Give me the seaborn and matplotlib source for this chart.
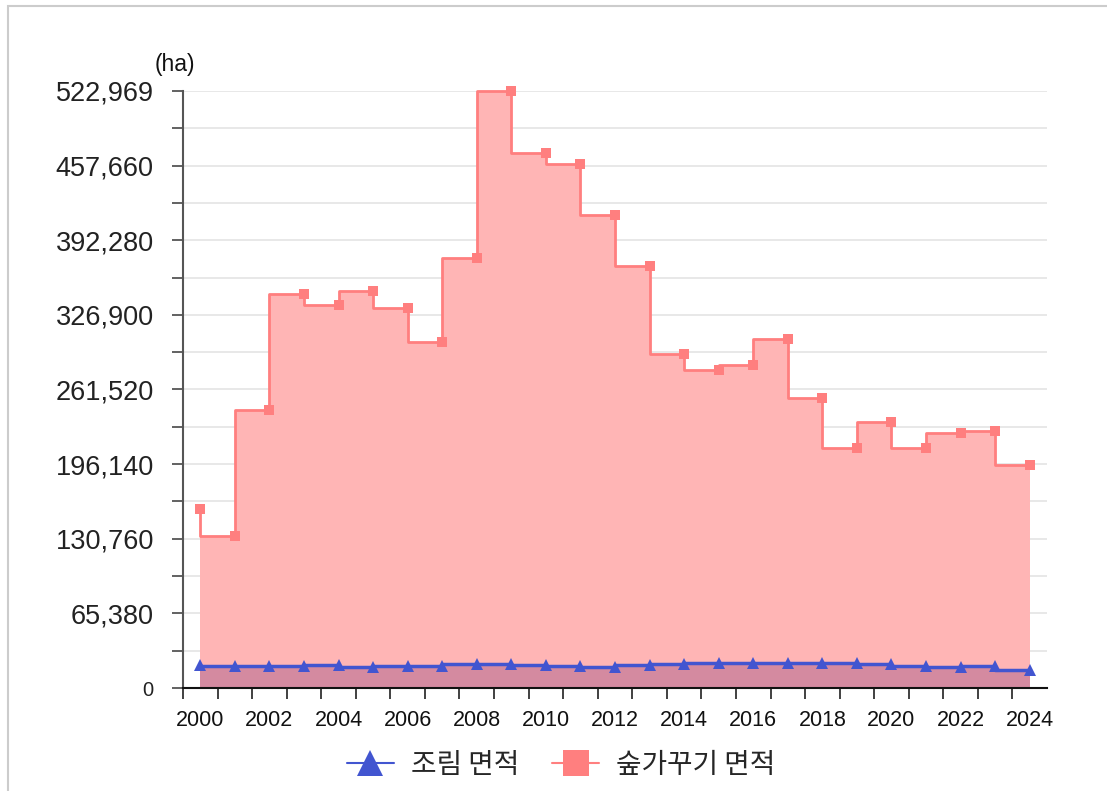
import matplotlib
matplotlib.use("Agg")
import matplotlib.pyplot as plt
import seaborn as sns
import numpy as np
import pandas as pd
from matplotlib.lines import Line2D
from matplotlib.patches import Rectangle

years = list(range(2000, 2025))
forest_care = [157000, 133000, 243500, 345000, 335500, 347800, 333200, 302800,
               376400, 522969, 468900, 459000, 414300, 369700, 292300, 278600,
               283000, 305400, 254300, 210000, 232700, 210500, 223400, 225400,
               195300]
planting = [20500, 19600, 19600, 19600, 20300, 18700, 19600, 19600,
            20700, 20700, 20100, 19300, 18700, 20500, 21300, 21600,
            22200, 22200, 21600, 21600, 21000, 19300, 18400, 19300,
            15800]
y_major = [0, 65380, 130760, 196140, 261520, 326900, 392280, 457660, 522969]
y_labels = ["0", "65,380", "130,760", "196,140", "261,520", "326,900",
            "392,280", "457,660", "522,969"]
label_planting = "조림 면적"
label_forest = "숲가꾸기 면적"
unit = "(ha)"

sns.set_theme(style="white")
plt.rcParams['font.family'] = ['Liberation Sans', 'Noto Sans CJK KR', 'DejaVu Sans']

df = pd.DataFrame({"idx": np.arange(len(years)), "year": years,
                   "forest": forest_care, "plant": planting})

fig = plt.figure(figsize=(11.07, 7.91), dpi=100)
ax = fig.add_axes([183/1107, 1-688/791, (1047-183)/1107, (688-91)/791])

pink_line = "#ff7f7f"
pink_fill = "#ffb5b5"
blue = "#4255d0"
purple_fill = "#d48aa0"

ax.fill_between(df["idx"], 0, df["forest"], step="pre", color=pink_fill, lw=0, zorder=1)
ax.fill_between(df["idx"], 0, df["plant"], step="pre", color=purple_fill, lw=0, zorder=2)

sns.lineplot(data=df, x="idx", y="forest", ax=ax, color=pink_line, lw=2,
             drawstyle="steps-pre", marker="s", markersize=7.5, markeredgewidth=0,
             zorder=4, legend=False, clip_on=False)
sns.lineplot(data=df, x="idx", y="plant", ax=ax, color=blue, lw=2.5,
             drawstyle="steps-pre", marker="^", markersize=9, markeredgewidth=0,
             zorder=5, legend=False, clip_on=False)

ax.set_xlim(-0.5, len(years) - 0.5)
ax.set_ylim(0, y_major[-1])

# y ticks
ax.set_yticks(y_major)
ax.set_yticklabels(y_labels)
minor = [(y_major[i] + y_major[i+1]) / 2 for i in range(len(y_major)-1)]
minor[-1] = 490350
ax.set_yticks(minor, minor=True)
for lab in ax.get_yticklabels():
    lab.set_fontsize(19.5 if lab.get_text() != "0" else 14.5)
    lab.set_color("#222222")
ax.tick_params(axis="y", which="both", length=8, width=1.3, color="#555555",
               direction="out", left=True, pad=13)
ax.grid(axis="y", which="both", color="#e4e4e4", lw=1.2, zorder=0)
ax.set_axisbelow(True)

# x ticks: marks at boundaries, labels at even years
ax.set_xticks(np.arange(-0.5, len(years) - 1, 1.0), minor=True)
ax.set_xticks([i for i, y in enumerate(years) if y % 2 == 0])
ax.set_xticklabels([str(y) for y in years if y % 2 == 0], fontsize=15.5, color="#111111")
ax.tick_params(axis="x", which="major", length=0, pad=16)
ax.tick_params(axis="x", which="minor", length=8, width=1.3, color="#333333",
               direction="out", bottom=True)

for s in ["top", "right"]:
    ax.spines[s].set_visible(False)
ax.spines["left"].set_color("#555555")
ax.spines["left"].set_linewidth(1.5)
ax.spines["bottom"].set_color("#111111")
ax.spines["bottom"].set_linewidth(1.5)
ax.set_xlabel("")
ax.set_ylabel("")

fig.text(175/1107, 1-65/791, unit, fontsize=16.5, ha="center", va="center", color="#111111")

handles = [
    Line2D([0], [0], color=blue, lw=1.5, marker="^", markersize=19, markeredgewidth=0),
    Line2D([0], [0], color=pink_line, lw=1.5, marker="s", markersize=19, markeredgewidth=0),
]
fig.legend(handles, [label_planting, label_forest], loc="center",
           bbox_to_anchor=(561/1107, 1-765/791), ncol=2, frameon=False,
           prop={"family": ["Noto Sans CJK KR", "DejaVu Sans"], "size": 20},
           handlelength=1.7, columnspacing=1.2, handletextpad=0.6)

# figure border (top and left visible)
fig.patches.append(Rectangle((8/1107, -0.05), 1.1, 1-6/791+0.05,
                             transform=fig.transFigure, fill=False,
                             edgecolor="#cccccc", lw=1.5, zorder=0))

fig.savefig("out.png", dpi=100)
